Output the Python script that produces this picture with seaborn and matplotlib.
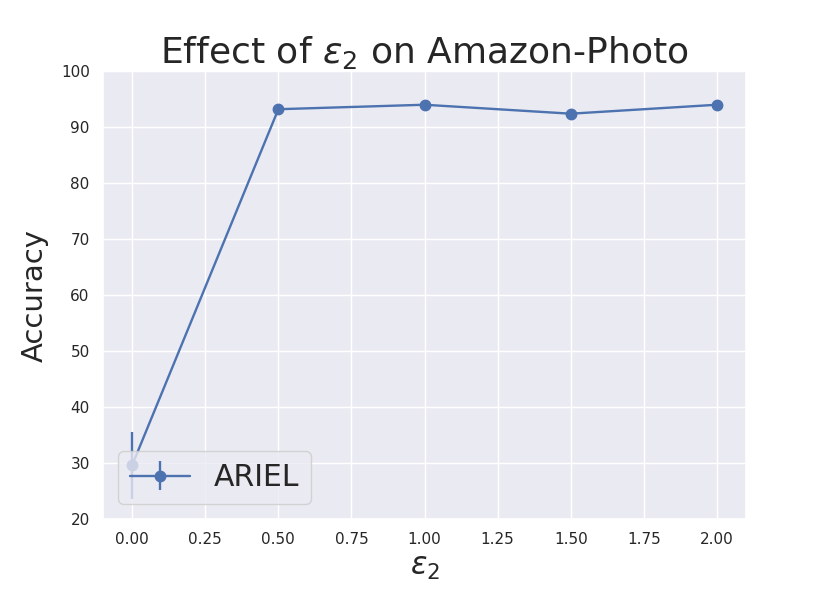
import matplotlib
matplotlib.use("Agg")
import matplotlib.pyplot as plt
import seaborn as sns

# epsilon_2 values and accuracy (mean / std)
eps2 = [0.0, 0.5, 1.0, 1.5, 2.0]
acc_mean = [29.6, 93.2, 94.0, 92.4, 94.0]
acc_std = [6.0, 0.3, 0.2, 0.3, 0.2]
y_ticks = [20, 30, 40, 50, 60, 70, 80, 90, 100]

sns.set_theme(style="darkgrid")

fig, ax = plt.subplots(figsize=(8.3, 5.93), dpi=100)
fig.subplots_adjust(left=0.124, right=0.899, top=0.880, bottom=0.125)

ax.errorbar(eps2, acc_mean, yerr=acc_std, fmt="-o", markersize=7.5,
            linewidth=1.7, color=sns.color_palette()[0], label="ARIEL")

ax.set_ylim(20, 100)
ax.set_yticks(y_ticks)
ax.set_title(r"Effect of $\varepsilon_2$ on Amazon-Photo", fontsize=26)
ax.set_xlabel(r"$\varepsilon_2$", fontsize=22)
ax.set_ylabel("Accuracy", fontsize=21, labelpad=9)
ax.legend(loc="lower left", fontsize=21.5)

fig.savefig("out.png", dpi=100)
